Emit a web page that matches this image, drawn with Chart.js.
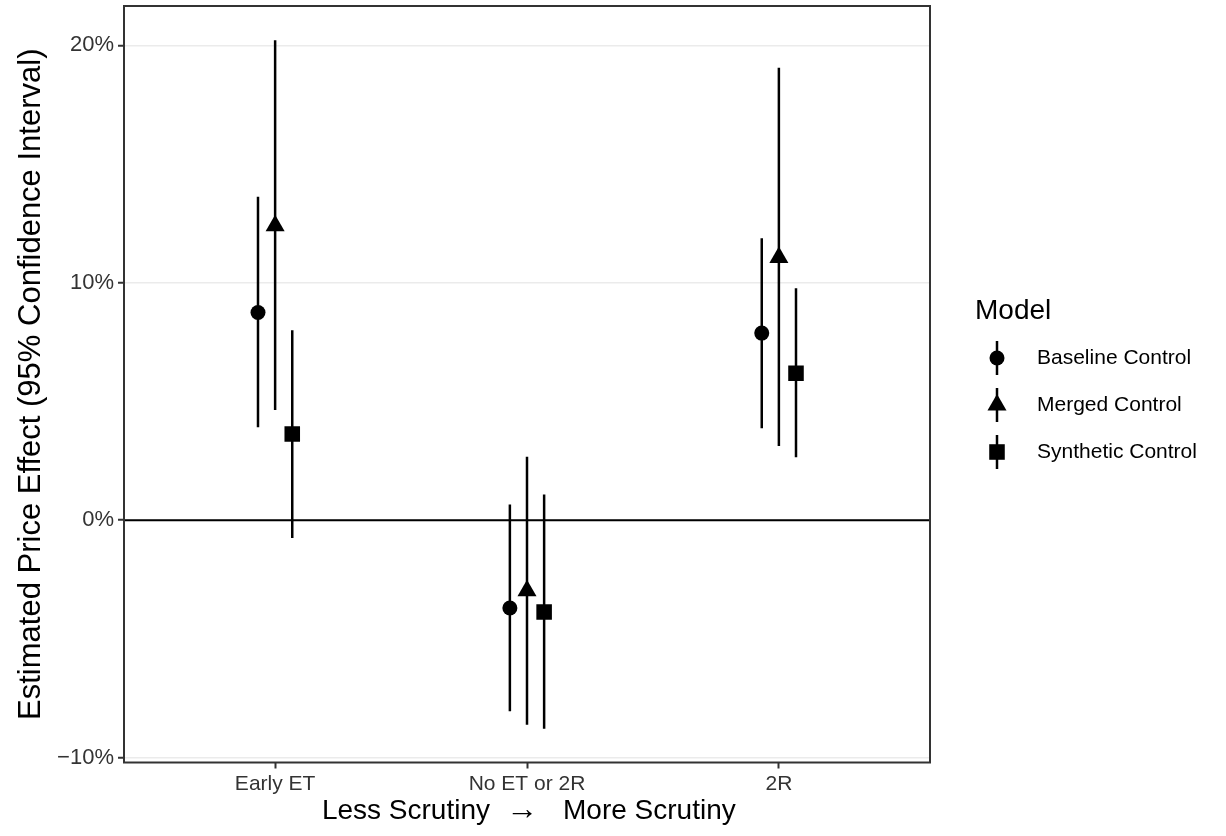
<!DOCTYPE html>
<html>
<head>
<meta charset="utf-8">
<script src="https://cdn.jsdelivr.net/npm/chart.js@4.4.1/dist/chart.umd.min.js"></script>
<style>
  html, body { margin: 0; padding: 0; background: #fff; }
  canvas { display: block; }
</style>
</head>
<body>
<canvas id="chart" width="1226" height="836"></canvas>
<script>
// categories on the x axis (less -> more scrutiny)
const categories = ["Early ET", "No ET or 2R", "2R"];
const models = ["Baseline Control", "Merged Control", "Synthetic Control"];

// estimated price effect, in percent, with 95% CI
const baselineEst = [8.75, -3.70, 7.88];
const baselineLo = [3.91, -8.05, 3.87];
const baselineHi = [13.62, 0.66, 11.88];

const mergedEst = [12.4, -2.97, 11.06];
const mergedLo = [4.64, -8.62, 3.12];
const mergedHi = [20.22, 2.67, 19.06];

const syntheticEst = [3.63, -3.87, 6.19];
const syntheticLo = [-0.75, -8.79, 2.65];
const syntheticHi = [8.0, 1.08, 9.77];

const yTicks = [-10, 0, 10, 20];
const zeroLine = [0, 0];

const FONT = "'Liberation Sans', Arial, Helvetica, sans-serif";
const dodge = [-0.068, 0, 0.068];
const shapes = [
  { pointStyle: "circle", radius: 7.5 },
  { pointStyle: "triangle", radius: 11 },
  { pointStyle: "rect", radius: 11 },
];

const series = [
  { est: baselineEst, lo: baselineLo, hi: baselineHi },
  { est: mergedEst, lo: mergedLo, hi: mergedHi },
  { est: syntheticEst, lo: syntheticLo, hi: syntheticHi },
];

function pointData(est, m) {
  return est.map((v, i) => ({ x: i + 1 + dodge[m], y: v }));
}

function barData(lo, hi, m) {
  const d = [];
  lo.forEach((v, i) => {
    const x = i + 1 + dodge[m];
    d.push({ x, y: v }, { x, y: hi[i] }, { x, y: null });
  });
  return d;
}

const datasets = [
  {
    type: "line",
    data: [{ x: 0.4, y: zeroLine[0] }, { x: 3.6, y: zeroLine[1] }],
    borderColor: "#000",
    borderWidth: 2,
    pointRadius: 0,
    order: 3,
  },
];

series.forEach((s, m) => {
  datasets.push({
    type: "line",
    label: models[m] + " CI",
    data: barData(s.lo, s.hi, m),
    borderColor: "#000",
    borderWidth: 2.5,
    borderCapStyle: "butt",
    pointRadius: 0,
    spanGaps: false,
    order: 2,
  });
  datasets.push({
    type: "scatter",
    label: models[m],
    data: pointData(s.est, m),
    pointStyle: shapes[m].pointStyle,
    pointRadius: shapes[m].radius,
    backgroundColor: "#000",
    borderWidth: 0,
    order: 1,
  });
});

// panel border, axis titles and the legend on the right
const decorations = {
  id: "decorations",
  afterDraw(chart) {
    const { ctx, chartArea: a } = chart;
    ctx.save();
    ctx.strokeStyle = "#333";
    ctx.lineWidth = 2;
    ctx.strokeRect(a.left, a.top, a.right - a.left, a.bottom - a.top);

    ctx.fillStyle = "#000";
    ctx.textBaseline = "middle";

    // x title
    ctx.font = `28px ${FONT}`;
    const ty = 811;
    ctx.textAlign = "right";
    ctx.fillText("Less Scrutiny", 490, ty);
    ctx.textAlign = "left";
    ctx.fillText("More Scrutiny", 563, ty);
    ctx.textAlign = "center";
    ctx.font = `32px ${FONT}`;
    ctx.fillText("\u2192", 522, ty - 1);

    // y title
    ctx.font = `31px ${FONT}`;
    ctx.translate(31, (a.top + a.bottom) / 2);
    ctx.rotate(-Math.PI / 2);
    ctx.textAlign = "center";
    ctx.fillText("Estimated Price Effect (95% Confidence Interval)", 0, 0);
    ctx.restore();

    // legend
    ctx.save();
    ctx.fillStyle = "#000";
    ctx.textBaseline = "middle";
    ctx.textAlign = "left";
    ctx.font = `28px ${FONT}`;
    ctx.fillText("Model", 975, 311);
    ctx.font = `21px ${FONT}`;
    const rows = [358, 405, 452];
    models.forEach((name, m) => {
      const y = rows[m];
      ctx.strokeStyle = "#000";
      ctx.lineWidth = 2.5;
      ctx.beginPath();
      ctx.moveTo(997, y - 17);
      ctx.lineTo(997, y + 17);
      ctx.stroke();
      ctx.fillStyle = "#000";
      Chart.helpers.drawPoint(ctx, { pointStyle: shapes[m].pointStyle, radius: shapes[m].radius, rotation: 0, borderWidth: 0 }, 997, y);
      ctx.fillStyle = "#000";
      ctx.fillText(name, 1037, y);
    });
    ctx.restore();
  },
};

new Chart(document.getElementById("chart"), {
  type: "scatter",
  data: { datasets },
  options: {
    responsive: false,
    animation: false,
    devicePixelRatio: 1,
    events: [],
    layout: { autoPadding: false, padding: { top: 6, right: 296, left: 0, bottom: 0 } },
    plugins: { legend: { display: false }, tooltip: { enabled: false } },
    scales: {
      x: {
        type: "linear",
        min: 0.4,
        max: 3.6,
        afterBuildTicks: (s) => {
          s.ticks = categories.map((c, i) => ({ value: i + 1 }));
        },
        afterFit: (s) => {
          s.height = 73.5;
          s.paddingLeft = 0;
          s.paddingRight = 0;
        },
        ticks: {
          callback: (v) => categories[Math.round(v) - 1],
          font: { family: FONT, size: 21 },
          color: "#333",
          padding: 3,
          maxRotation: 0,
          autoSkip: false,
        },
        grid: { drawOnChartArea: false, tickLength: 6, tickColor: "#333", tickWidth: 2 },
        border: { display: false },
      },
      y: {
        type: "linear",
        min: -10.21,
        max: 21.66,
        afterBuildTicks: (s) => {
          s.ticks = yTicks.map((v) => ({ value: v }));
        },
        afterFit: (s) => {
          s.width = 124;
          s.paddingTop = 0;
          s.paddingBottom = 0;
        },
        ticks: {
          callback: (v) => (v < 0 ? "\u2212" : "") + Math.abs(v) + "%",
          font: { family: FONT, size: 22 },
          color: "#333",
          padding: 4,
        },
        grid: { color: "#ebebeb", lineWidth: 1.5, tickLength: 6, tickColor: "#333", tickWidth: 2 },
        border: { display: false },
      },
    },
  },
  plugins: [decorations],
});
</script>
</body>
</html>
